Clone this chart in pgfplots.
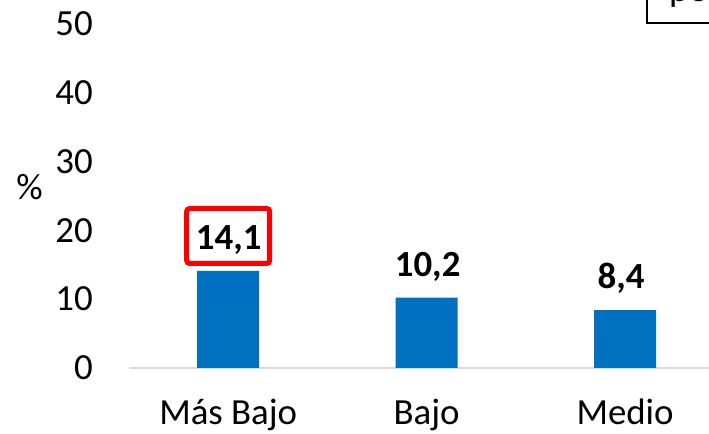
\documentclass[border=0pt]{standalone}
\usepackage{fontspec}
\setmainfont{Carlito}
\usepackage{pgfplots}
\pgfplotsset{compat=1.18}
\definecolor{barblue}{HTML}{0070C0}
\definecolor{axgray}{HTML}{D9D9D9}
\begin{document}
\begin{tikzpicture}[x=1bp,y=1bp]
\path[use as bounding box] (0,0) rectangle (709,434);
\begin{axis}[
    at={(129bp,66bp)}, anchor=south west,
    scale only axis, width=580bp, height=344.5bp,
    xmin=-0.5, xmax=2.423, ymin=0, ymax=50,
    axis x line*=bottom, axis y line*=left,
    x axis line style={axgray, line width=1.5bp, -},
    y axis line style={draw=none},
    major tick length=0pt,
    ybar, bar width=62bp,
    xtick={0,1,2}, xticklabels={Más Bajo, Bajo, Medio},
    ytick={0,10,20,30,40,50},
    tick label style={font=\fontsize{37}{44}\selectfont, inner sep=0pt},
    xticklabel style={anchor=base, yshift=-57bp},
    yticklabel style={anchor=east, xshift=-36bp},
    /pgf/number format/assume math mode=true,
    clip=false,
]
\addplot[fill=barblue, draw=none] coordinates {(0,14.1) (1,10.2) (2,8.4)};
\node[draw=red, line width=5bp, rounded corners=3bp, minimum width=83bp, minimum height=55bp,
      inner sep=0pt] at (axis cs:0,19.16) {};
\node[anchor=base, inner sep=0pt, font=\fontsize{37}{44}\selectfont\bfseries] at (axis cs:0.0025,17.13) {14,1};
\node[anchor=base, inner sep=0pt, font=\fontsize{37}{44}\selectfont\bfseries] at (axis cs:1.005,13.21) {10,2};
\node[anchor=base, inner sep=0pt, font=\fontsize{37}{44}\selectfont\bfseries] at (axis cs:1.98,11.61) {8,4};
\end{axis}
\node[font=\fontsize{37}{44}\selectfont] at (29.5,246.5) {\%};
\draw[line width=2bp] (647,411) rectangle (740,470);
\node[anchor=base west, inner sep=0pt, font=\fontsize{37}{44}\selectfont] at (669,432.5) {pe};
\end{tikzpicture}
\end{document}
